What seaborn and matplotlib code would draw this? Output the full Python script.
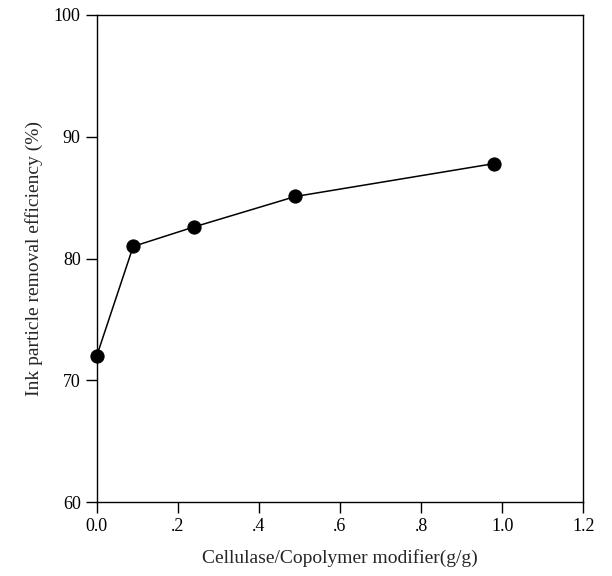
import matplotlib
matplotlib.use("Agg")
import matplotlib.pyplot as plt
import seaborn as sns
import pandas as pd

# values
ratio = [0.0, 0.09, 0.24, 0.49, 0.98]
efficiency = [72.0, 81.0, 82.6, 85.1, 87.8]

x_ticks = [0.0, 0.2, 0.4, 0.6, 0.8, 1.0, 1.2]
x_tick_labels = ["0.0", ".2", ".4", ".6", ".8", "1.0", "1.2"]
y_ticks = [60, 70, 80, 90, 100]

df = pd.DataFrame({"ratio": ratio, "efficiency": efficiency})

sns.set_style("ticks")
plt.rcParams["font.family"] = ["Liberation Serif", "DejaVu Serif"]

fig = plt.figure(figsize=(6.12, 5.76), dpi=100)
ax = fig.add_axes([0.158, 0.128, 0.795, 0.846])

sns.lineplot(data=df, x="ratio", y="efficiency", ax=ax, color="black",
             linewidth=1.1, marker="o", markersize=9.5,
             markeredgecolor="black", markerfacecolor="black", clip_on=False)

ax.set_xlim(0.0, 1.2)
ax.set_ylim(60, 100)
ax.set_xticks(x_ticks)
ax.set_xticklabels(x_tick_labels)
ax.set_yticks(y_ticks)
ax.tick_params(direction="out", length=8, width=1, labelsize=13, colors="black")
for s in ax.spines.values():
    s.set_color("black")
    s.set_linewidth(1)

ax.set_xlabel("Cellulase/Copolymer modifier(g/g)", fontsize=14, labelpad=10)
ax.set_ylabel("Ink particle removal efficiency (%)", fontsize=14, labelpad=8)

fig.savefig("out.png", dpi=100)
